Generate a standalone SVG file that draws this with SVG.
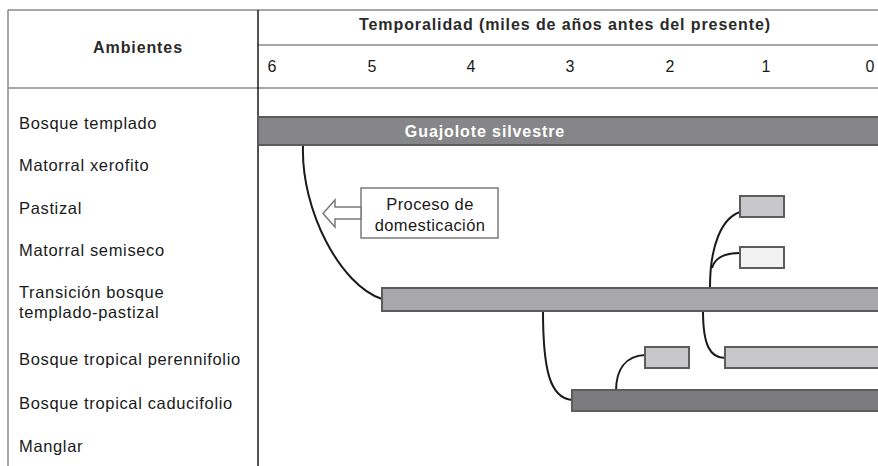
<svg xmlns="http://www.w3.org/2000/svg" width="878" height="466" viewBox="0 0 878 466">
<style>
text{font-family:"Liberation Sans",Arial,sans-serif;font-size:16.5px;letter-spacing:0.65px;fill:#1a1a1a}
.hd{font-weight:bold;font-size:16px;letter-spacing:0.9px;fill:#2a2a2a}
.num{font-size:16px;letter-spacing:0;text-anchor:middle}
.grid{stroke:#8a8a8a;stroke-width:1.5;fill:none}
.bar{stroke:#5c5c5e;stroke-width:2}
.con{fill:none;stroke:#1a1a1a;stroke-width:2}
</style>
<g id="frame">
<line class="grid" x1="8" y1="10" x2="878" y2="10"/>
<line class="grid" x1="258" y1="45" x2="878" y2="45"/>
<line class="grid" x1="8" y1="88" x2="878" y2="88"/>
<line class="grid" x1="8" y1="10" x2="8" y2="466"/>
<line x1="258" y1="10" x2="258" y2="466" stroke="#1a1a1a" stroke-width="1.5"/>
</g>
<g id="headers">
<text class="hd" x="138" y="53" text-anchor="middle">Ambientes</text>
<text class="hd" x="565" y="30" text-anchor="middle">Temporalidad (miles de años antes del presente)</text>
<text class="num" x="272" y="72">6</text>
<text class="num" x="372" y="72">5</text>
<text class="num" x="471" y="72">4</text>
<text class="num" x="570" y="72">3</text>
<text class="num" x="670" y="72">2</text>
<text class="num" x="766" y="72">1</text>
<text class="num" x="870" y="72">0</text>
</g>
<g id="labels">
<text x="19" y="129">Bosque templado</text>
<text x="19" y="171">Matorral xerofito</text>
<text x="19" y="214">Pastizal</text>
<text x="19" y="256">Matorral semiseco</text>
<text x="19" y="298">Transición bosque</text>
<text x="19" y="318">templado-pastizal</text>
<text x="19" y="365">Bosque tropical perennifolio</text>
<text x="19" y="409">Bosque tropical caducifolio</text>
<text x="19" y="452">Manglar</text>
</g>
<g id="connectors">
<path class="con" d="M303,146 C301,210 340,285 382,299"/>
<path class="con" d="M710,287 C710,245 722,218 740,212"/>
<path class="con" d="M712,268 C715,257 725,253 740,253"/>
<path class="con" d="M703,311 C703,345 710,358 725,358"/>
<path class="con" d="M543,311 C543,370 550,398 572,400"/>
<path class="con" d="M616,391 C616,370 625,356 645,355"/>
</g>
<g id="guajolote">
<rect class="bar" x="258" y="117" width="624" height="28" fill="#868688"/>
<text x="485" y="137" text-anchor="middle" font-weight="bold" style="fill:#ffffff;font-size:16px;letter-spacing:0.9px">Guajolote silvestre</text>
</g>
<g id="domesticacion">
<rect x="361" y="188" width="137" height="50" fill="#ffffff" stroke="#7a7a7a" stroke-width="1.5"/>
<polygon points="361,207 335,207 335,200 323,213.5 335,227 335,219 361,219" fill="#ffffff" stroke="#7a7a7a" stroke-width="1.5"/>
<text x="430" y="210" text-anchor="middle" style="letter-spacing:0.4px">Proceso de</text>
<text x="430" y="231" text-anchor="middle" style="letter-spacing:0.4px">domesticación</text>
</g>
<g id="transicion"><rect class="bar" x="382" y="288" width="500" height="23" fill="#a8a8aa"/></g>
<g id="pastizal"><rect class="bar" x="740" y="196" width="44" height="21" fill="#c8c8ca"/></g>
<g id="semiseco"><rect class="bar" x="740" y="247" width="44" height="21" fill="#f2f2f2"/></g>
<g id="perennifolio-a"><rect class="bar" x="645" y="347" width="44" height="21" fill="#c8c8ca"/></g>
<g id="perennifolio-b"><rect class="bar" x="725" y="347" width="157" height="21" fill="#c8c8ca"/></g>
<g id="caducifolio"><rect class="bar" x="572" y="390" width="310" height="21" fill="#7c7c7e"/></g>
</svg>
